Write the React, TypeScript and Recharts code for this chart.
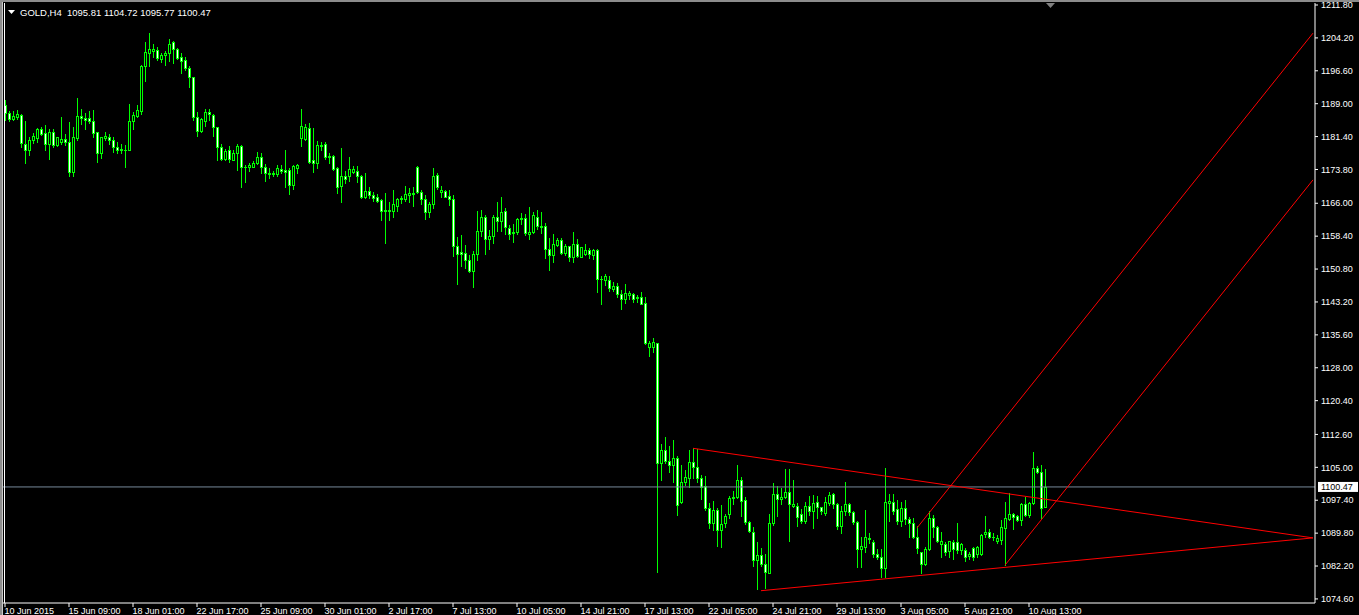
import React from "react";
import { ComposedChart, Bar, XAxis, YAxis, ReferenceLine } from "recharts";

// GOLD H4 candles, 10 Jun 2015 .. 10 Aug 2015 (one entry per bar)
const opens = [
  1188.6, 1186.8, 1185.5, 1186.0, 1186.5, 1179.8, 1178.4, 1180.5, 1181.0, 1183.1,
  1182.2, 1179.7, 1182.4, 1179.5, 1180.2, 1180.8, 1180.1, 1173.3, 1181.1, 1186.2,
  1185.7, 1185.6, 1185.0, 1182.4, 1177.5, 1181.1, 1181.3, 1180.6, 1179.0, 1178.2,
  1178.2, 1178.4, 1184.9, 1186.2, 1187.4, 1197.6, 1200.8, 1201.2, 1201.3, 1199.3,
  1200.3, 1200.6, 1203.2, 1201.6, 1199.7, 1199.1, 1197.2, 1195.1, 1185.9, 1182.7,
  1184.9, 1187.1, 1186.4, 1183.7, 1178.9, 1176.2, 1178.2, 1176.1, 1177.5, 1179.2,
  1174.3, 1174.4, 1174.3, 1175.2, 1176.6, 1174.3, 1172.8, 1172.9, 1172.8, 1173.8,
  1173.7, 1173.7, 1170.2, 1174.2, 1181.0, 1180.8, 1183.5, 1176.0, 1175.4, 1179.3,
  1179.7, 1176.8, 1176.9, 1174.1, 1170.0, 1172.3, 1172.2, 1173.3, 1173.5, 1172.3,
  1167.5, 1168.8, 1167.9, 1167.5, 1166.8, 1164.4, 1164.3, 1164.3, 1165.4, 1166.9,
  1167.0, 1168.0, 1168.1, 1174.3, 1168.5, 1166.9, 1163.9, 1165.8, 1172.5, 1168.7,
  1168.8, 1167.7, 1166.9, 1156.1, 1154.7, 1154.6, 1152.9, 1150.4, 1154.2, 1159.7,
  1162.8, 1157.8, 1158.5, 1162.9, 1161.8, 1164.1, 1160.4, 1159.1, 1159.3, 1162.3,
  1162.5, 1159.0, 1159.3, 1162.8, 1160.7, 1160.7, 1155.4, 1154.0, 1156.4, 1157.5,
  1154.6, 1156.1, 1153.7, 1156.7, 1153.7, 1154.3, 1155.2, 1154.0, 1155.2, 1148.6,
  1148.3, 1148.3, 1146.3, 1146.9, 1145.0, 1143.8, 1144.8, 1145.0, 1144.0, 1144.3,
  1142.9, 1132.7, 1132.7, 1133.7, 1106.1, 1109.0, 1106.5, 1105.5, 1107.1, 1096.9,
  1101.5, 1102.6, 1106.2, 1105.0, 1102.5, 1100.8, 1095.5, 1092.1, 1095.1, 1090.5,
  1092.1, 1094.2, 1097.8, 1098.1, 1102.1, 1097.5, 1092.3, 1090.1, 1083.6, 1084.8,
  1082.7, 1080.7, 1092.1, 1098.9, 1097.6, 1098.2, 1099.4, 1096.1, 1096.1, 1094.2,
  1092.5, 1096.1, 1094.8, 1097.0, 1095.8, 1094.5, 1096.7, 1098.8, 1096.5, 1091.5,
  1094.8, 1096.5, 1094.6, 1092.3, 1086.1, 1086.7, 1088.6, 1087.8, 1084.9, 1084.2,
  1081.7, 1096.8, 1096.9, 1095.3, 1092.7, 1095.5, 1093.0, 1092.1, 1089.0, 1085.4,
  1082.7, 1086.1, 1093.2, 1091.2, 1087.2, 1087.4, 1085.7, 1087.8, 1087.7, 1085.8,
  1085.9, 1084.6, 1086.3, 1084.9, 1085.0, 1089.5, 1090.1, 1089.0, 1087.9, 1088.1,
  1091.1, 1093.1, 1094.2, 1093.8, 1092.8, 1096.5, 1094.0, 1096.7, 1104.8, 1104.0,
  1095.81,
];

const highs = [
  1189.9, 1187.2, 1187.3, 1187.6, 1186.6, 1185.0, 1181.2, 1182.2, 1183.5, 1183.7,
  1184.1, 1183.2, 1183.2, 1181.4, 1185.9, 1182.0, 1184.8, 1183.6, 1190.3, 1187.8,
  1186.8, 1187.2, 1187.6, 1182.5, 1181.4, 1182.4, 1182.0, 1181.2, 1180.2, 1179.6,
  1179.5, 1188.9, 1187.1, 1188.7, 1197.9, 1203.2, 1205.3, 1202.8, 1202.0, 1200.6,
  1201.1, 1203.9, 1203.5, 1201.8, 1200.6, 1199.7, 1197.7, 1195.1, 1187.0, 1185.6,
  1187.8, 1187.8, 1186.6, 1183.7, 1179.7, 1178.5, 1179.2, 1178.2, 1179.8, 1179.4,
  1174.8, 1175.2, 1175.8, 1177.8, 1177.7, 1175.1, 1174.1, 1173.5, 1174.8, 1174.8,
  1178.3, 1174.1, 1174.8, 1175.1, 1187.8, 1184.3, 1184.5, 1183.5, 1180.4, 1180.2,
  1180.2, 1177.5, 1177.2, 1174.3, 1178.7, 1173.5, 1176.8, 1174.7, 1174.5, 1172.5,
  1173.1, 1169.7, 1168.6, 1168.1, 1167.0, 1168.3, 1166.3, 1169.1, 1167.3, 1167.7,
  1170.0, 1169.5, 1169.7, 1174.5, 1169.1, 1167.9, 1166.4, 1174.1, 1172.9, 1170.0,
  1169.1, 1169.1, 1167.9, 1158.1, 1158.7, 1156.4, 1154.1, 1155.0, 1164.2, 1164.4,
  1163.4, 1159.8, 1163.3, 1166.4, 1167.5, 1164.8, 1161.0, 1161.1, 1162.7, 1163.8,
  1163.5, 1165.1, 1163.9, 1164.4, 1163.9, 1161.4, 1157.9, 1158.9, 1157.9, 1157.9,
  1156.7, 1156.1, 1159.4, 1157.7, 1156.0, 1156.6, 1155.6, 1155.4, 1155.4, 1149.2,
  1149.7, 1149.2, 1147.8, 1147.5, 1146.0, 1147.4, 1145.7, 1145.2, 1144.8, 1145.5,
  1144.4, 1134.1, 1134.9, 1133.7, 1110.5, 1112.0, 1110.0, 1111.3, 1107.6, 1105.5,
  1104.4, 1109.0, 1109.4, 1109.2, 1103.2, 1103.0, 1096.7, 1097.2, 1095.5, 1096.2,
  1094.2, 1098.4, 1099.6, 1105.5, 1102.8, 1098.1, 1092.5, 1091.2, 1087.8, 1086.3,
  1085.0, 1094.2, 1101.3, 1100.7, 1100.2, 1104.6, 1104.5, 1102.1, 1096.7, 1095.3,
  1096.9, 1098.4, 1098.6, 1098.4, 1095.9, 1098.1, 1099.2, 1099.0, 1096.8, 1096.1,
  1101.5, 1096.7, 1094.9, 1092.5, 1088.8, 1095.2, 1089.9, 1088.2, 1086.1, 1086.1,
  1104.9, 1098.8, 1098.8, 1097.5, 1096.9, 1097.5, 1093.5, 1093.2, 1091.5, 1085.5,
  1086.7, 1094.8, 1094.0, 1091.5, 1090.1, 1087.8, 1088.0, 1088.2, 1092.2, 1087.6,
  1086.3, 1085.5, 1086.7, 1086.8, 1089.7, 1093.8, 1090.7, 1089.8, 1089.4, 1092.8,
  1097.1, 1099.0, 1094.5, 1094.0, 1096.7, 1098.2, 1097.1, 1108.6, 1105.2, 1105.5,
  1104.72,
];

const lows = [
  1185.2, 1185.1, 1185.2, 1185.4, 1179.1, 1175.2, 1177.1, 1180.0, 1180.2, 1181.7,
  1178.2, 1176.3, 1178.9, 1179.2, 1179.7, 1179.5, 1172.4, 1172.4, 1180.6, 1184.3,
  1183.2, 1184.5, 1181.4, 1175.6, 1176.5, 1180.5, 1179.8, 1177.9, 1177.5, 1177.5,
  1174.3, 1178.3, 1183.2, 1185.9, 1186.6, 1194.3, 1197.8, 1199.9, 1199.1, 1198.7,
  1197.9, 1198.9, 1198.3, 1199.3, 1196.2, 1196.8, 1192.8, 1185.2, 1181.6, 1182.5,
  1183.9, 1185.2, 1181.6, 1175.9, 1176.0, 1175.9, 1175.6, 1175.9, 1173.7, 1169.8,
  1171.0, 1173.5, 1174.3, 1175.1, 1173.1, 1171.2, 1171.8, 1172.2, 1172.3, 1173.1,
  1169.8, 1168.1, 1169.3, 1172.9, 1179.2, 1180.6, 1175.2, 1173.3, 1174.1, 1178.2,
  1176.2, 1175.4, 1173.7, 1168.3, 1166.4, 1170.6, 1171.2, 1173.1, 1171.0, 1167.1,
  1167.3, 1167.1, 1166.6, 1166.4, 1162.1, 1156.8, 1162.1, 1162.8, 1164.3, 1166.0,
  1166.5, 1166.4, 1165.4, 1168.3, 1165.8, 1162.4, 1162.9, 1165.0, 1169.2, 1167.4,
  1167.4, 1165.5, 1153.8, 1147.4, 1151.6, 1151.1, 1150.1, 1146.7, 1152.8, 1158.4,
  1154.3, 1155.4, 1156.9, 1159.7, 1159.6, 1158.9, 1157.7, 1157.1, 1158.9, 1161.1,
  1158.7, 1157.7, 1159.1, 1160.1, 1159.1, 1153.3, 1150.6, 1152.5, 1156.1, 1154.3,
  1154.1, 1152.7, 1152.4, 1153.5, 1153.5, 1154.0, 1153.3, 1153.1, 1145.4, 1142.7,
  1147.1, 1145.8, 1145.8, 1144.3, 1141.6, 1143.0, 1143.8, 1143.3, 1143.3, 1142.7,
  1133.5, 1130.7, 1131.7, 1080.9, 1102.0, 1106.0, 1104.0, 1101.5, 1094.0, 1096.7,
  1100.9, 1100.5, 1102.6, 1101.7, 1097.7, 1095.1, 1091.1, 1090.5, 1086.9, 1086.7,
  1091.2, 1093.2, 1096.5, 1097.8, 1093.8, 1091.9, 1090.1, 1082.1, 1076.9, 1082.2,
  1077.2, 1080.5, 1091.7, 1093.8, 1096.5, 1097.8, 1088.0, 1095.9, 1091.5, 1092.1,
  1092.1, 1094.1, 1091.1, 1093.4, 1094.2, 1094.1, 1096.3, 1095.7, 1090.8, 1089.9,
  1094.0, 1094.1, 1091.9, 1081.9, 1081.9, 1085.5, 1087.5, 1084.4, 1083.8, 1079.6,
  1079.6, 1092.5, 1094.2, 1091.8, 1091.5, 1091.8, 1088.8, 1088.6, 1085.1, 1080.7,
  1082.4, 1085.9, 1089.0, 1087.8, 1084.4, 1084.7, 1084.4, 1083.8, 1085.1, 1084.9,
  1083.4, 1083.8, 1083.7, 1084.2, 1084.7, 1089.0, 1088.6, 1088.2, 1087.6, 1087.4,
  1082.4, 1092.8, 1090.7, 1092.5, 1091.7, 1093.8, 1093.5, 1096.5, 1103.6, 1093.2,
  1095.77,
];

const closes = [
  1186.8, 1185.4, 1186.2, 1186.6, 1180.0, 1178.4, 1180.6, 1181.5, 1183.1, 1182.0,
  1179.8, 1182.4, 1179.5, 1181.2, 1180.8, 1180.1, 1173.3, 1181.2, 1186.2, 1185.7,
  1185.2, 1184.9, 1182.3, 1177.5, 1181.4, 1181.5, 1180.5, 1178.9, 1178.4, 1178.6,
  1178.4, 1185.0, 1186.3, 1187.6, 1197.7, 1200.9, 1201.6, 1201.6, 1199.5, 1200.3,
  1200.8, 1202.9, 1201.6, 1199.6, 1198.9, 1197.2, 1195.1, 1186.0, 1182.8, 1185.5,
  1187.1, 1186.6, 1183.7, 1178.9, 1176.2, 1178.1, 1176.2, 1177.5, 1179.2, 1174.3,
  1174.4, 1174.8, 1175.2, 1176.6, 1174.3, 1172.9, 1173.1, 1172.7, 1174.1, 1173.5,
  1173.3, 1170.2, 1174.5, 1174.8, 1183.8, 1183.7, 1175.6, 1175.4, 1179.5, 1179.5,
  1176.8, 1176.9, 1173.9, 1169.8, 1172.3, 1171.7, 1173.9, 1173.9, 1172.2, 1167.5,
  1168.9, 1168.0, 1167.3, 1166.6, 1164.3, 1164.3, 1164.4, 1165.8, 1167.0, 1167.3,
  1168.1, 1168.3, 1168.3, 1168.5, 1166.9, 1163.9, 1165.8, 1172.4, 1169.7, 1169.1,
  1167.5, 1166.9, 1156.1, 1154.2, 1154.2, 1152.9, 1150.4, 1154.2, 1159.7, 1162.8,
  1157.7, 1158.5, 1162.9, 1161.8, 1163.9, 1160.6, 1158.8, 1159.4, 1162.3, 1162.5,
  1159.1, 1159.3, 1163.3, 1160.7, 1160.6, 1155.4, 1154.0, 1156.6, 1157.4, 1154.6,
  1156.1, 1153.7, 1156.7, 1153.9, 1155.8, 1155.2, 1154.2, 1155.2, 1148.4, 1148.4,
  1149.2, 1146.4, 1146.9, 1145.0, 1143.8, 1145.2, 1145.2, 1143.9, 1144.3, 1142.8,
  1133.7, 1133.7, 1133.9, 1106.1, 1109.0, 1106.5, 1105.5, 1107.1, 1096.3, 1101.5,
  1102.7, 1106.2, 1105.0, 1102.5, 1100.5, 1095.5, 1092.1, 1095.1, 1090.5, 1091.9,
  1093.8, 1097.8, 1098.1, 1102.1, 1097.3, 1092.3, 1090.3, 1083.6, 1084.8, 1082.7,
  1080.8, 1092.1, 1098.9, 1097.6, 1098.1, 1099.4, 1096.5, 1096.5, 1093.5, 1092.5,
  1096.1, 1094.8, 1096.8, 1095.8, 1094.8, 1097.0, 1098.6, 1096.5, 1091.5, 1094.9,
  1096.5, 1094.6, 1092.3, 1086.1, 1086.8, 1088.8, 1088.4, 1084.9, 1084.2, 1081.7,
  1097.1, 1097.2, 1095.0, 1092.7, 1095.5, 1093.0, 1092.1, 1089.0, 1086.3, 1082.7,
  1086.1, 1093.2, 1091.2, 1088.0, 1088.0, 1085.4, 1088.0, 1086.1, 1085.9, 1087.4,
  1084.4, 1084.9, 1084.4, 1086.5, 1089.4, 1090.1, 1089.0, 1088.8, 1088.7, 1091.3,
  1093.2, 1094.2, 1093.6, 1092.8, 1096.5, 1094.0, 1096.8, 1104.8, 1104.0, 1095.5,
  1100.47,
];

// one label every 16 bars
const timeLabels = [
  "10 Jun 2015", "15 Jun 09:00", "18 Jun 01:00", "22 Jun 17:00", "25 Jun 09:00",
  "30 Jun 01:00", "2 Jul 17:00", "7 Jul 13:00", "10 Jul 05:00", "14 Jul 21:00",
  "17 Jul 13:00", "22 Jul 05:00", "24 Jul 21:00", "29 Jul 13:00", "3 Aug 05:00",
  "5 Aug 21:00", "10 Aug 13:00",
];
const labelStep = 16;

const priceTicks = [
  1211.8, 1204.2, 1196.6, 1189.0, 1181.4, 1173.8, 1166.0, 1158.4, 1150.8, 1143.2,
  1135.6, 1128.0, 1120.4, 1112.6, 1105.0, 1097.4, 1089.8, 1082.2, 1074.6,
];

const lastPrice = 1100.47;
const header = "GOLD,H4  1095.81 1104.72 1095.77 1100.47";

// hand-drawn trendlines (bar index, price)
const triangleTop = [{ x: 172, y: 1109.4 }, { x: 327, y: 1088.7 }];
const triangleBottom = [{ x: 189, y: 1076.5 }, { x: 327, y: 1088.7 }];
const channelTop = [{ x: 228, y: 1091.0 }, { x: 327, y: 1205.3 }];
const channelBottom = [{ x: 250, y: 1082.4 }, { x: 327, y: 1171.4 }];

const slotCount = 328; // bars plus the empty shift area on the right

const data = Array.from({ length: slotCount }, (_, i) =>
  i < opens.length
    ? { i, range: [lows[i], highs[i]], open: opens[i], close: closes[i] }
    : { i }
);

const LIME = "#00ff00";
const FONT = "'Liberation Sans', Arial, sans-serif";

function Candle(props: any) {
  const { x, y, width, height, payload } = props;
  if (!payload || payload.open == null || !isFinite(y) || !isFinite(height)) return <g />;
  const [lo, hi] = payload.range;
  const top = Math.min(y, y + height);
  const bottom = Math.max(y, y + height);
  const span = hi - lo || 1;
  const toY = (p: number) => top + ((hi - p) / span) * (bottom - top);
  const c = Math.round(x + width / 2);
  const yo = Math.round(toY(payload.open));
  const yc = Math.round(toY(payload.close));
  const bTop = Math.min(yo, yc);
  const bBot = Math.max(yo, yc);
  const bear = payload.close < payload.open;
  return (
    <g>
      <line x1={c + 0.5} x2={c + 0.5} y1={Math.round(top)} y2={Math.round(bottom) + 1}
        stroke={LIME} strokeWidth={1} />
      {bBot - bTop < 1 ? (
        <line x1={c - 1} x2={c + 2} y1={bTop + 0.5} y2={bTop + 0.5} stroke={LIME} strokeWidth={1} />
      ) : (
        <rect x={c - 0.5} y={bTop + 0.5} width={2} height={bBot - bTop}
          fill={bear ? "#ffffff" : "#000000"} stroke={LIME} strokeWidth={1} />
      )}
    </g>
  );
}

function TimeTick(props: any) {
  const { x, payload } = props;
  const label = timeLabels[Math.round(payload.value / labelStep)] ?? "";
  return (
    <text x={x - 0.5} y={614} fill="#ffffff" fontSize={9} fontFamily={FONT} textAnchor="start">
      {label}
    </text>
  );
}

function PriceTag(props: any) {
  const vb = props.viewBox || {};
  const bx = vb.x + vb.width + 3;
  const by = vb.y - 5;
  return (
    <g>
      <rect x={bx} y={by} width={40} height={10} fill="#ffffff" />
      <text x={bx + 3} y={by + 8.5} fill="#000000" fontSize={9} fontFamily={FONT}>
        {lastPrice.toFixed(2)}
      </text>
    </g>
  );
}

export default function App() {
  const tickValues = timeLabels.map((_, k) => k * labelStep);
  return (
    <div style={{ position: "absolute", left: 0, top: 0, width: 1359, height: 615, background: "#000", overflow: "hidden" }}>
      <ComposedChart
        width={1359}
        height={615}
        data={data}
        margin={{ top: 3, right: 0, bottom: 0, left: 3 }}
        barCategoryGap={0}
        style={{ background: "#000" }}
      >
        <XAxis
          dataKey="i"
          type="category"
          ticks={tickValues}
          interval={0}
          height={12}
          tickSize={4}
          axisLine={{ stroke: "#ffffff" }}
          tickLine={{ stroke: "#ffffff" }}
          tick={<TimeTick />}
        />
        <YAxis
          orientation="right"
          type="number"
          domain={[1073.66, 1212.26]}
          allowDataOverflow
          ticks={priceTicks}
          interval={0}
          width={44}
          tickSize={3}
          tickMargin={3}
          axisLine={{ stroke: "#ffffff" }}
          tickLine={{ stroke: "#ffffff" }}
          tick={{ fill: "#ffffff", fontSize: 9, fontFamily: FONT }}
          tickFormatter={(v: number) => v.toFixed(2)}
        />
        <Bar dataKey="range" shape={<Candle />} isAnimationActive={false} />
        <ReferenceLine y={lastPrice} stroke="#778899" strokeWidth={1} label={<PriceTag />} />
        <ReferenceLine segment={triangleTop} stroke="#ff0000" strokeWidth={1} />
        <ReferenceLine segment={triangleBottom} stroke="#ff0000" strokeWidth={1} />
        <ReferenceLine segment={channelTop} stroke="#ff0000" strokeWidth={1} />
        <ReferenceLine segment={channelBottom} stroke="#ff0000" strokeWidth={1} />
      </ComposedChart>
      <svg width={1359} height={615} style={{ position: "absolute", left: 0, top: 0, pointerEvents: "none" }}>
        <rect x={0} y={0} width={1359} height={2} fill="#8c8c8c" />
        <rect x={0} y={0} width={2} height={615} fill="#8c8c8c" />
        <rect x={2} y={2} width={1} height={613} fill="#c8c8c8" />
        <rect x={4} y={3} width={1} height={600} fill="#ffffff" />
        <polygon points="8,10 15,10 11.5,14" fill="#ffffff" />
        <text x={20} y={15.5} fill="#ffffff" fontSize={9.5} fontFamily={FONT} style={{ whiteSpace: "pre" }}>
          {header}
        </text>
        <polygon points="1046,3 1055,3 1050.5,8" fill="#808080" />
      </svg>
    </div>
  );
}
